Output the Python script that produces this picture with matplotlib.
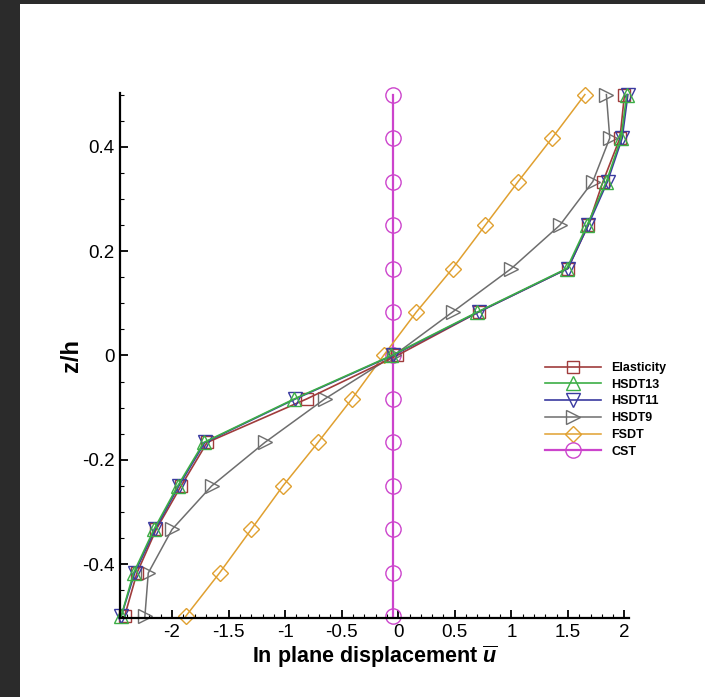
import matplotlib
matplotlib.use("Agg")
import matplotlib.pyplot as plt
from matplotlib.ticker import MultipleLocator, FixedLocator, FixedFormatter
from matplotlib.patches import Rectangle

plt.rcParams['font.family'] = ['Liberation Sans', 'DejaVu Sans']
plt.rcParams['mathtext.fontset'] = 'custom'
plt.rcParams['mathtext.it'] = 'Liberation Sans:bold:italic'
plt.rcParams['mathtext.rm'] = 'Liberation Sans:bold'

# ---- data ----
z = [-0.5, -0.4167, -0.3333, -0.25, -0.1667, -0.0833, 0.0,
     0.0833, 0.1667, 0.25, 0.3333, 0.4167, 0.5]
elasticity = [-2.42, -2.31, -2.14, -1.92, -1.69, -0.81, -0.01,
              0.71, 1.50, 1.68, 1.81, 1.96, 2.00]
hsdt13 = [-2.45, -2.34, -2.16, -1.95, -1.72, -0.92, -0.06,
          0.70, 1.49, 1.67, 1.84, 1.97, 2.02]
hsdt11 = [-2.45, -2.33, -2.15, -1.94, -1.71, -0.91, -0.05,
          0.71, 1.50, 1.68, 1.85, 1.98, 2.03]
hsdt9 = [-2.24, -2.21, -2.00, -1.65, -1.18, -0.65, -0.04,
         0.48, 1.00, 1.43, 1.72, 1.87, 1.84]
fsdt = [-1.88, -1.58, -1.30, -1.02, -0.71, -0.41, -0.13,
        0.16, 0.48, 0.77, 1.06, 1.36, 1.65]
cst = [-0.05, -0.05, -0.05, -0.05, -0.05, -0.05, -0.05,
       -0.05, -0.05, -0.05, -0.05, -0.05, -0.05]

x_ticks = [-2, -1.5, -1, -0.5, 0, 0.5, 1, 1.5, 2]
x_ticklabels = ['-2', '-1.5', '-1', '-0.5', '0', '0.5', '1', '1.5', '2']
y_ticks = [-0.4, -0.2, 0, 0.2, 0.4]
y_ticklabels = ['-0.4', '-0.2', '0', '0.2', '0.4']

W, H = 705, 697
fig = plt.figure(figsize=(W / 100, H / 100), dpi=100)
fig.patch.set_facecolor('#2b2b2b')
bg = Rectangle((20 / W, 0), 1 - 20 / W, 1 - 4 / H, transform=fig.transFigure,
               facecolor='white', edgecolor='none', zorder=-10)
fig.add_artist(bg)

ax = fig.add_axes([120 / W, 1 - 618 / H, (629 - 120) / W, (618 - 93) / H])
ax.set_facecolor('none')
ax.set_zorder(1)

series = [
    ('CST', cst, 'o', '#cc44cc', 11, 1.6),
    ('FSDT', fsdt, 'D', '#e0a030', 8, 1.1),
    ('HSDT9', hsdt9, '>', '#6e6e6e', 10, 1.1),
    ('Elasticity', elasticity, 's', '#a03c3c', 9, 1.2),
    ('HSDT11', hsdt11, 'v', '#3a3aa0', 10, 1.2),
    ('HSDT13', hsdt13, '^', '#3cae46', 10, 1.2),
]
handles = {}
for name, xs, mk, col, ms, lw in series:
    h, = ax.plot(xs, z, color=col, marker=mk, markersize=ms, markerfacecolor='none',
                 markeredgecolor=col, markeredgewidth=1.0, linewidth=lw,
                 label=name, clip_on=False)
    handles[name] = h

ax.set_xlim(-2.46, 2.04)
ax.set_ylim(-0.503, 0.503)

ax.xaxis.set_major_locator(FixedLocator(x_ticks))
ax.xaxis.set_major_formatter(FixedFormatter(x_ticklabels))
ax.xaxis.set_minor_locator(MultipleLocator(0.1))
ax.yaxis.set_major_locator(FixedLocator(y_ticks))
ax.yaxis.set_major_formatter(FixedFormatter(y_ticklabels))
ax.yaxis.set_minor_locator(MultipleLocator(0.05))

for s in ['top', 'right']:
    ax.spines[s].set_visible(False)
for s in ['left', 'bottom']:
    ax.spines[s].set_linewidth(1.6)

ax.tick_params(which='major', direction='in', length=6, width=1.3, labelsize=13.5, pad=4)
ax.tick_params(which='minor', direction='in', length=3, width=0.8)

ax.set_xlabel(r'In plane displacement $\overline{u}$', fontsize=15.5, fontweight='bold',
              labelpad=2)
ax.set_ylabel('z/h', fontsize=17, fontweight='bold', labelpad=-1)

order = ['Elasticity', 'HSDT13', 'HSDT11', 'HSDT9', 'FSDT', 'CST']
leg = ax.legend([handles[n] for n in order], order, loc='upper left',
                bbox_to_anchor=(545 / W, 1 - 362 / H), bbox_transform=fig.transFigure,
                frameon=False, borderpad=0, borderaxespad=0, handlelength=4.5,
                handletextpad=0.8, labelspacing=0.38,
                prop={'size': 9, 'weight': 'bold'})

fig.savefig('out.png', dpi=100, facecolor=fig.get_facecolor())
